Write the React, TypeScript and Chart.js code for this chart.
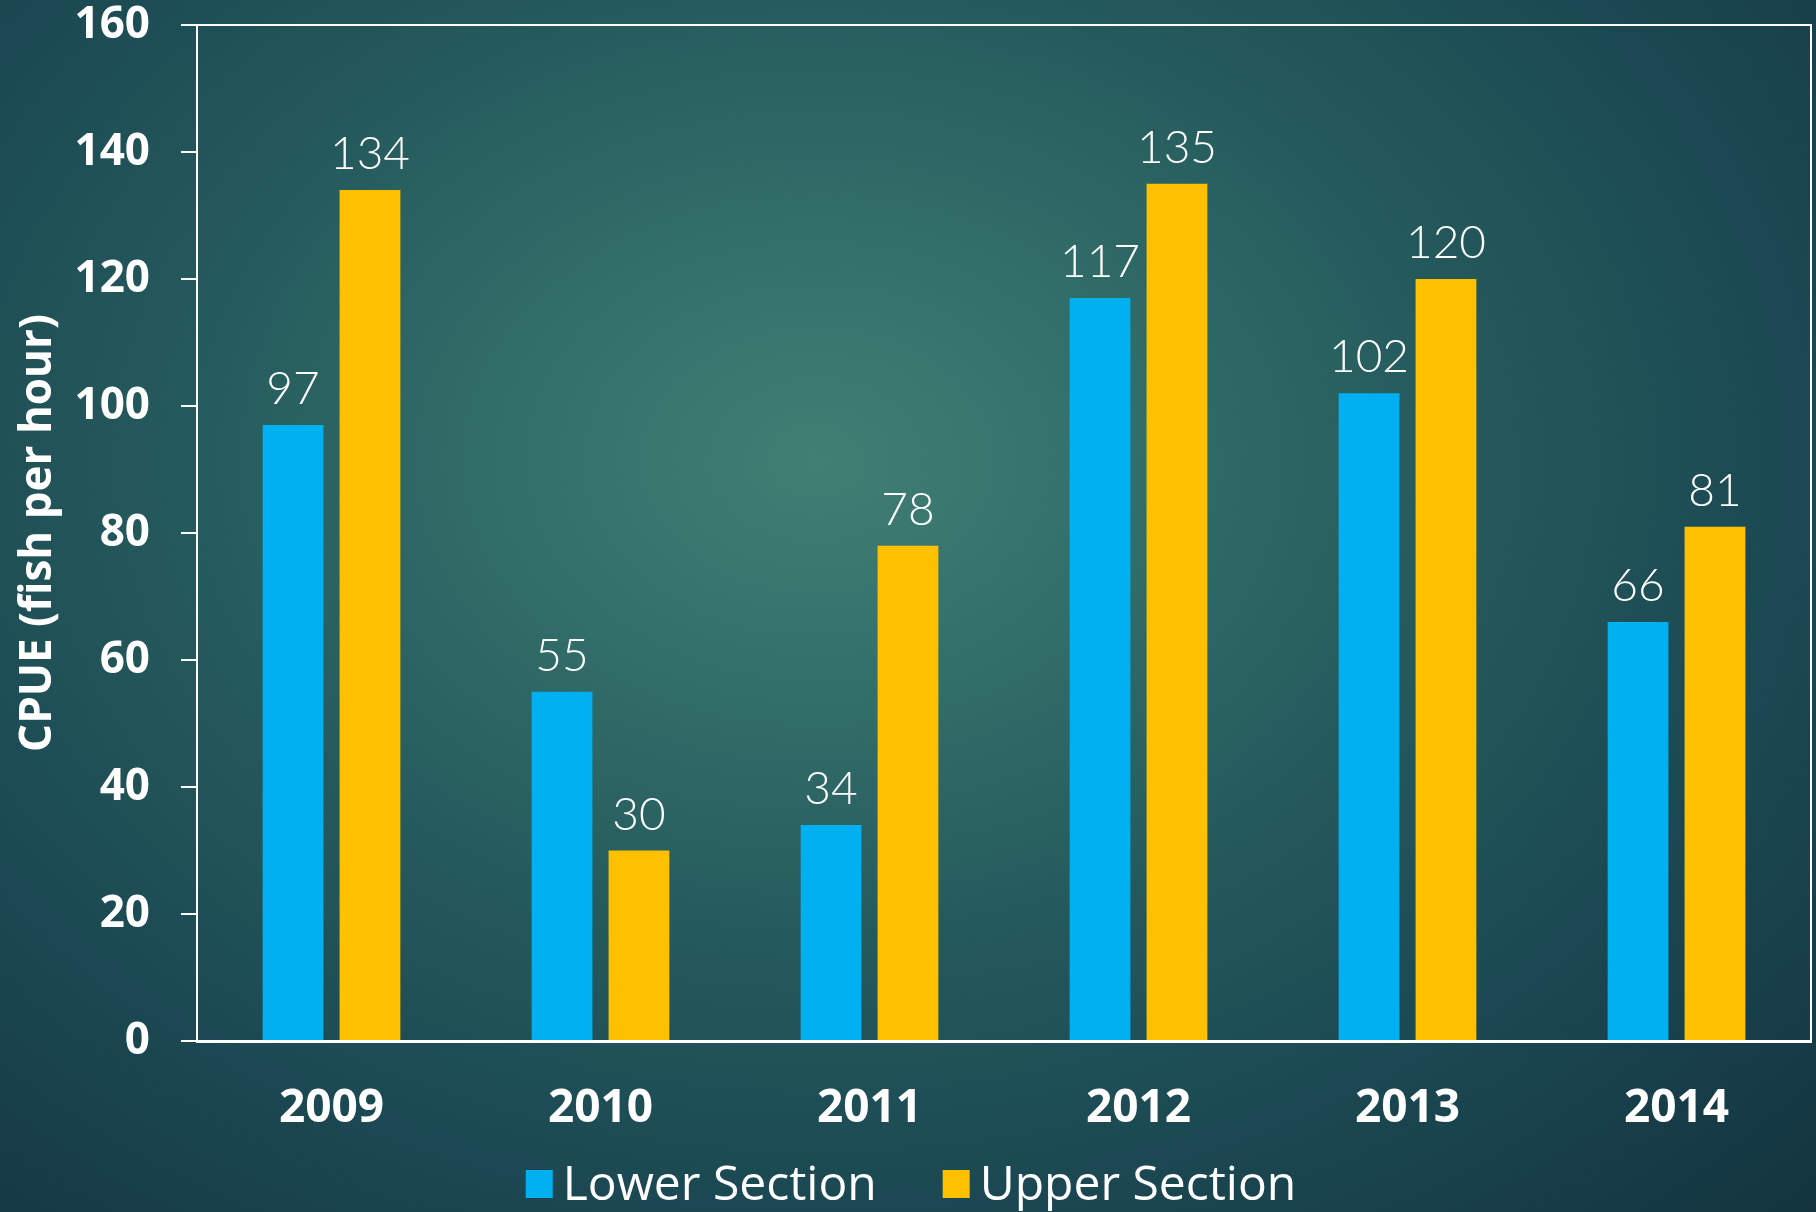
import React, { useEffect, useRef } from "react";
import { Chart, registerables } from "chart.js";

Chart.register(...registerables);

const categories = ["2009", "2010", "2011", "2012", "2013", "2014"];
const lowerValues = [97, 55, 34, 117, 102, 66];
const upperValues = [134, 30, 78, 135, 120, 81];
const seriesNames = ["Lower Section", "Upper Section"];
const seriesColors = ["#00B0F0", "#FFC000"];
const yTitle = "CPUE (fish per hour)";

const W = 1816;
const H = 1212;

const frameAndLabels = {
  id: "frameAndLabels",
  afterDatasetsDraw(chart: any) {
    const { ctx } = chart;
    ctx.save();
    ctx.fillStyle = "#ffffff";
    ctx.font = "300 46px Lato, 'Open Sans', sans-serif";
    ctx.textAlign = "center";
    ctx.textBaseline = "alphabetic";
    chart.data.datasets.forEach((ds: any, i: number) => {
      const meta = chart.getDatasetMeta(i);
      meta.data.forEach((bar: any, j: number) => {
        ctx.fillText(String(ds.data[j]), bar.x, bar.y - 21);
      });
    });
    ctx.restore();
  },
  afterDraw(chart: any) {
    const { ctx, chartArea } = chart;
    ctx.save();
    ctx.strokeStyle = "#ffffff";
    ctx.lineWidth = 2;
    ctx.beginPath();
    ctx.moveTo(chartArea.left, chartArea.top);
    ctx.lineTo(chartArea.right, chartArea.top);
    ctx.lineTo(chartArea.right, chartArea.bottom);
    ctx.stroke();

    // legend (drawn from the dataset names / colours)
    const font = "48px 'Open Sans', sans-serif";
    ctx.font = font;
    ctx.textBaseline = "middle";
    ctx.textAlign = "left";
    const boxW = 27;
    const boxH = 28;
    const gapBoxText = 10;
    const gapItems = 66;
    const items = chart.data.datasets.map((ds: any) => ({
      text: ds.label,
      color: ds.backgroundColor,
      w: ctx.measureText(ds.label).width,
    }));
    const total =
      items.reduce((a: number, it: any) => a + boxW + gapBoxText + it.w, 0) +
      gapItems * (items.length - 1);
    let x = 911 - total / 2;
    const cy = 1184;
    items.forEach((it: any) => {
      ctx.fillStyle = it.color;
      ctx.fillRect(x, cy - boxH / 2, boxW, boxH);
      x += boxW + gapBoxText;
      ctx.fillStyle = "#ffffff";
      ctx.fillText(it.text, x, cy + 2);
      x += it.w + gapItems;
    });
    ctx.restore();
  },
};

export default function App() {
  const ref = useRef<HTMLCanvasElement | null>(null);

  useEffect(() => {
    if (!ref.current) return;
    const chart = new Chart(ref.current, {
      type: "bar",
      data: {
        labels: categories,
        datasets: [
          {
            label: seriesNames[0],
            data: lowerValues,
            backgroundColor: seriesColors[0],
            categoryPercentage: 0.572,
            barPercentage: 0.79,
          },
          {
            label: seriesNames[1],
            data: upperValues,
            backgroundColor: seriesColors[1],
            categoryPercentage: 0.572,
            barPercentage: 0.79,
          },
        ],
      },
      options: {
        responsive: false,
        animation: false,
        devicePixelRatio: 1,
        layout: { padding: { left: 0, top: 25, right: 5, bottom: 64 } },
        plugins: {
          tooltip: { enabled: false },
          legend: { display: false },
        },
        scales: {
          x: {
            grid: { display: true, drawOnChartArea: false, drawTicks: false },
            border: { display: true, color: "#ffffff", width: 3 },
            ticks: {
              color: "#ffffff",
              padding: 40,
              font: { family: "'Open Sans', sans-serif", size: 46, weight: "bold" },
            },
            afterFit: (s: any) => {
              s.height = 107;
              s.paddingLeft = 0;
              s.paddingRight = 0;
            },
          },
          y: {
            min: 0,
            max: 160,
            ticks: {
              stepSize: 20,
              color: "#ffffff",
              padding: 31,
              font: { family: "'Open Sans', sans-serif", size: 44, weight: "bold" },
            },
            grid: {
              drawOnChartArea: false,
              color: "#ffffff",
              lineWidth: 2,
              tickLength: 16,
            },
            border: { display: true, color: "#ffffff", width: 2 },
            title: {
              display: true,
              text: yTitle,
              color: "#ffffff",
              padding: { top: 12, bottom: 0 },
              font: { family: "'Open Sans', sans-serif", size: 44, weight: "bold" },
            },
            afterFit: (s: any) => {
              s.width = 197;
              s.paddingTop = 0;
              s.paddingBottom = 0;
            },
          },
        },
      },
      plugins: [frameAndLabels],
    });
    return () => chart.destroy();
  }, []);

  return (
    <div
      style={{
        position: "fixed",
        left: 0,
        top: 0,
        width: W,
        height: H,
        background:
          "radial-gradient(ellipse farthest-corner at 45% 38%, #417f74 0%, #33706b 20%, #255a5c 45%, #1b4852 70%, #13343f 100%)",
      }}
    >
      <canvas ref={ref} width={W} height={H} style={{ display: "block" }} />
    </div>
  );
}
